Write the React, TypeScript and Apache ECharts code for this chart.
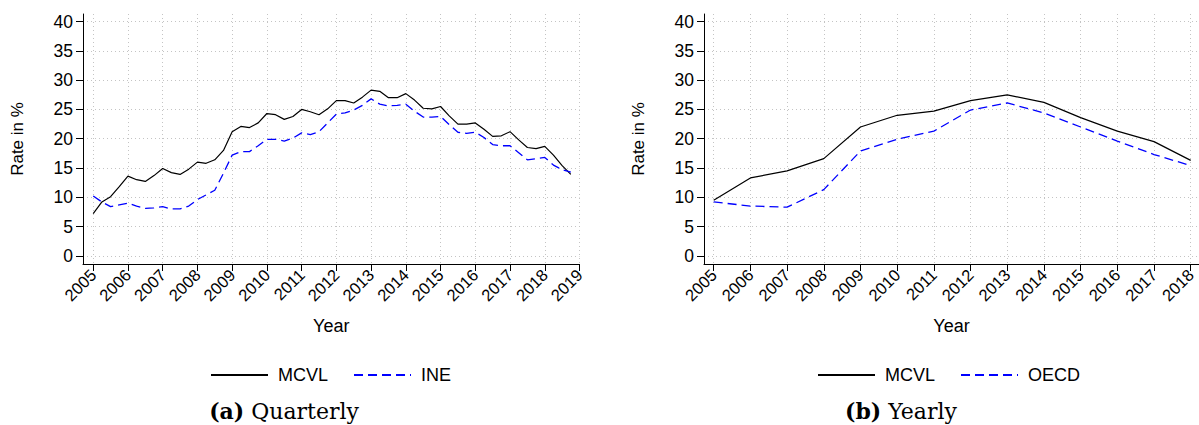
import React, { useEffect, useRef } from 'react';
import * as echarts from 'echarts';

// Quarterly panel (a)
const quarterLabels = [
  '2005Q1','2005Q2','2005Q3','2005Q4','2006Q1','2006Q2','2006Q3','2006Q4',
  '2007Q1','2007Q2','2007Q3','2007Q4','2008Q1','2008Q2','2008Q3','2008Q4',
  '2009Q1','2009Q2','2009Q3','2009Q4','2010Q1','2010Q2','2010Q3','2010Q4',
  '2011Q1','2011Q2','2011Q3','2011Q4','2012Q1','2012Q2','2012Q3','2012Q4',
  '2013Q1','2013Q2','2013Q3','2013Q4','2014Q1','2014Q2','2014Q3','2014Q4',
  '2015Q1','2015Q2','2015Q3','2015Q4','2016Q1','2016Q2','2016Q3','2016Q4',
  '2017Q1','2017Q2','2017Q3','2017Q4','2018Q1','2018Q2','2018Q3','2018Q4',
];
const mcvlQuarterly = [
  7.2, 9.2, 10.1, 11.8, 13.6, 13.0, 12.7, 13.7,
  14.9, 14.2, 13.9, 14.8, 16.0, 15.8, 16.4, 18.0,
  21.2, 22.1, 21.9, 22.7, 24.3, 24.1, 23.3, 23.8,
  25.0, 24.6, 24.1, 25.1, 26.5, 26.5, 26.1, 27.1,
  28.3, 28.1, 27.0, 27.0, 27.7, 26.6, 25.2, 25.1,
  25.5, 23.9, 22.5, 22.5, 22.7, 21.6, 20.4, 20.5,
  21.2, 19.8, 18.5, 18.3, 18.7, 17.2, 15.4, 13.9,
];
const ineQuarterly = [
  10.2, 9.2, 8.4, 8.7, 9.0, 8.5, 8.1, 8.2,
  8.4, 8.0, 8.0, 8.5, 9.6, 10.4, 11.2, 14.1,
  17.2, 17.8, 17.8, 18.8, 19.9, 19.9, 19.6, 20.1,
  21.0, 20.7, 21.2, 22.7, 24.2, 24.4, 24.9, 25.7,
  26.8, 25.9, 25.6, 25.7, 25.9, 24.7, 23.7, 23.7,
  23.8, 22.4, 21.1, 20.9, 21.1, 20.2, 19.0, 18.8,
  18.8, 17.6, 16.4, 16.6, 16.8, 15.5, 14.7, 14.3,
];
const quarterlyYearTicks = [2005, 2006, 2007, 2008, 2009, 2010, 2011, 2012, 2013, 2014, 2015, 2016, 2017, 2018, 2019];

// Yearly panel (b)
const years = [2005, 2006, 2007, 2008, 2009, 2010, 2011, 2012, 2013, 2014, 2015, 2016, 2017, 2018];
const mcvlYearly = [9.5, 13.3, 14.5, 16.6, 22.0, 24.0, 24.7, 26.5, 27.5, 26.2, 23.6, 21.3, 19.5, 16.3];
const oecdYearly = [9.2, 8.5, 8.3, 11.3, 17.9, 19.9, 21.3, 24.9, 26.1, 24.4, 22.0, 19.6, 17.3, 15.4];
const yearlyYearTicks = [2005, 2006, 2007, 2008, 2009, 2010, 2011, 2012, 2013, 2014, 2015, 2016, 2017, 2018];

const rateTicks = [0, 5, 10, 15, 20, 25, 30, 35, 40];

const SANS = '"Liberation Sans", Arial, sans-serif';
const SERIF = '"DejaVu Serif", serif';

function quarterToNumber(q: string): number {
  const y = parseInt(q.slice(0, 4), 10);
  const n = parseInt(q.slice(5), 10);
  return y + (n - 1) / 4;
}

function xAxisFor(gridIndex: number, min: number, max: number, ticks: number[]) {
  return {
    gridIndex,
    type: 'value',
    min,
    max,
    name: 'Year',
    nameLocation: 'middle',
    nameGap: 53,
    nameTextStyle: { fontFamily: SANS, fontSize: 18, color: '#000' },
    axisLine: { show: true, onZero: false, lineStyle: { color: '#000', width: 1 } },
    axisTick: { show: true, length: 7, customValues: ticks, lineStyle: { color: '#000', width: 1 } },
    axisLabel: {
      customValues: ticks,
      rotate: 45,
      margin: 8,
      fontFamily: SANS,
      fontSize: 16.5,
      color: '#000',
      formatter: (v: number) => String(v),
    },
    splitLine: { show: true, lineStyle: { type: [1, 3], color: '#c4c4c4', width: 1 } },
  };
}

function yAxisFor(gridIndex: number) {
  return {
    gridIndex,
    type: 'value',
    min: -1.4,
    max: 41.3,
    name: 'Rate in %',
    nameLocation: 'middle',
    nameRotate: 90,
    nameGap: 57,
    nameTextStyle: { fontFamily: SANS, fontSize: 17, color: '#000' },
    axisLine: { show: true, onZero: false, lineStyle: { color: '#000', width: 1 } },
    axisTick: { show: true, length: 7, customValues: rateTicks, lineStyle: { color: '#000', width: 1 } },
    axisLabel: {
      customValues: rateTicks,
      margin: 10,
      fontFamily: SANS,
      fontSize: 17.5,
      color: '#000',
      formatter: (v: number) => String(v),
    },
    splitLine: { show: true, lineStyle: { type: [1, 3], color: '#c4c4c4', width: 1 } },
  };
}

const solid = { color: '#000', width: 1.2, type: 'solid' };
const dashed = { color: '#0000ff', width: 1.3, type: [9, 5] };

export default function App() {
  const ref = useRef<HTMLDivElement>(null);

  useEffect(() => {
    if (!ref.current) return;
    const chart = echarts.init(ref.current, undefined, { renderer: 'svg' });
    const qx = quarterLabels.map(quarterToNumber);

    const legendCommon = {
      top: 366,
      padding: 0,
      itemWidth: 57,
      itemHeight: 14,
      itemGap: 25,
      selectedMode: false,
      itemStyle: { opacity: 0 },
      textStyle: { fontFamily: SANS, fontSize: 18, color: '#000', padding: [0, 0, 0, 5] },
    };

    chart.setOption({
      animation: false,
      backgroundColor: '#fff',
      grid: [
        { left: 83, top: 14, width: 496.5, height: 250 },
        { left: 704, top: 14, width: 495, height: 250 },
      ],
      xAxis: [
        xAxisFor(0, 2004.706, 2019, quarterlyYearTicks),
        xAxisFor(1, 2004.7356, 2018.226, yearlyYearTicks),
      ],
      yAxis: [yAxisFor(0), yAxisFor(1)],
      legend: [
        { ...legendCommon, left: 210, data: ['MCVL', 'INE'] },
        { ...legendCommon, left: 817, data: ['MCVL', 'OECD'] },
      ],
      series: [
        {
          type: 'line', name: 'MCVL', xAxisIndex: 0, yAxisIndex: 0, symbol: 'none', silent: true,
          data: qx.map((x, i) => [x, mcvlQuarterly[i]]),
          lineStyle: solid, itemStyle: { color: '#000' },
        },
        {
          type: 'line', name: 'INE', xAxisIndex: 0, yAxisIndex: 0, symbol: 'none', silent: true,
          data: qx.map((x, i) => [x, ineQuarterly[i]]),
          lineStyle: dashed, itemStyle: { color: '#0000ff' },
        },
        {
          type: 'line', name: 'MCVL', xAxisIndex: 1, yAxisIndex: 1, symbol: 'none', silent: true,
          data: years.map((y, i) => [y, mcvlYearly[i]]),
          lineStyle: solid, itemStyle: { color: '#000' },
        },
        {
          type: 'line', name: 'OECD', xAxisIndex: 1, yAxisIndex: 1, symbol: 'none', silent: true,
          data: years.map((y, i) => [y, oecdYearly[i]]),
          lineStyle: dashed, itemStyle: { color: '#0000ff' },
        },
      ],
      graphic: [
        {
          type: 'text', x: 284, y: 411,
          style: {
            text: '{b|(a)}{n| Quarterly}',
            align: 'center', verticalAlign: 'middle', fill: '#000',
            rich: {
              b: { fontFamily: SERIF, fontSize: 22, fontWeight: 'bold', fill: '#000' },
              n: { fontFamily: SERIF, fontSize: 22, fill: '#000' },
            },
          },
        },
        {
          type: 'text', x: 901, y: 411,
          style: {
            text: '{b|(b)}{n| Yearly}',
            align: 'center', verticalAlign: 'middle', fill: '#000',
            rich: {
              b: { fontFamily: SERIF, fontSize: 22, fontWeight: 'bold', fill: '#000' },
              n: { fontFamily: SERIF, fontSize: 22, fill: '#000' },
            },
          },
        },
      ],
    });

    return () => chart.dispose();
  }, []);

  return (
    <div
      ref={ref}
      style={{ position: 'absolute', left: 0, top: 0, width: 1199, height: 425, background: '#fff' }}
    />
  );
}
